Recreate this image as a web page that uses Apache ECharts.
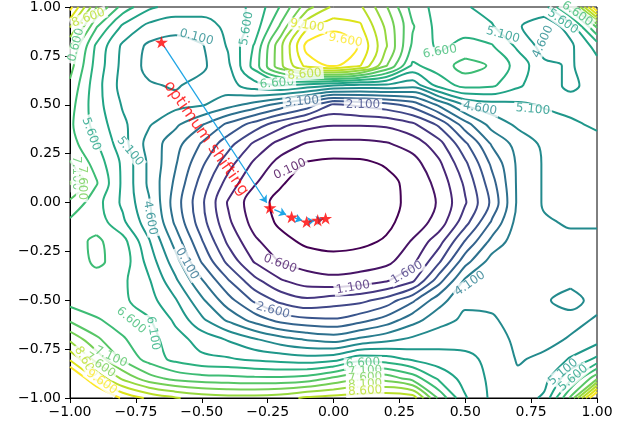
<!DOCTYPE html>
<html><head><meta charset="utf-8">
<script src="https://cdn.jsdelivr.net/npm/echarts/dist/echarts.min.js"></script>
<style>html,body{margin:0;padding:0;background:#fff}#c{width:634px;height:428px}</style>
</head><body><div id="c"></div>
<script>
// ---- data ----
const gridX = [-1.0,-0.9,-0.8,-0.7,-0.6,-0.5,-0.4,-0.3,-0.2,-0.1,0.0,0.1,0.2,0.3,0.4,0.5,0.6,0.7,0.8,0.9,1.0];
const gridY = [1.0,0.9,0.8,0.7,0.6,0.5,0.4,0.3,0.2,0.1,0.0,-0.1,-0.2,-0.3,-0.4,-0.5,-0.6,-0.7,-0.8,-0.9,-1.0];
const rowY100 = [9.8,7.65,6.4,5.7,5.4,5.3,5.4,5.7,6.65,7.9,8.7,8.7,7.65,6.4,5.9,5.65,5.4,5.2,5.4,6.9,10.2];
const rowY090 = [8.65,6.65,5.5,4.95,4.8,4.9,5.2,5.8,7.2,9.0,9.4,9.2,8.0,6.65,5.9,5.9,5.65,5.15,4.8,5.3,7.2];
const rowY080 = [7.65,6.0,5.0,4.5,4.35,4.55,5.15,6.15,8.0,9.8,10.2,9.55,8.15,6.5,6.0,6.25,6.15,5.5,4.9,5.0,5.8];
const rowY070 = [7.3,5.9,4.95,4.45,4.3,4.5,5.0,6.3,8.0,9.3,9.7,9.15,7.65,6.0,6.35,6.8,6.55,5.9,5.2,5.05,5.4];
const rowY060 = [7.0,5.8,4.9,4.65,4.55,4.75,4.9,5.4,5.65,5.4,5.15,5.0,5.0,4.8,5.8,6.3,6.2,5.7,5.2,5.05,5.2];
const rowY050 = [6.8,5.8,5.05,4.8,4.75,4.65,4.3,3.9,3.4,2.9,2.0,2.2,2.4,2.8,3.7,4.65,4.9,5.0,5.15,5.2,5.2];
const rowY040 = [6.7,5.9,5.2,4.65,4.2,3.65,3.0,2.4,1.8,1.3,1.15,1.15,1.2,1.5,2.2,3.4,4.3,4.7,4.9,5.05,5.15];
const rowY030 = [6.8,6.15,5.3,4.4,3.8,3.05,2.3,1.5,0.9,0.55,0.45,0.45,0.55,0.8,1.4,2.5,3.65,4.3,4.7,4.85,5.0];
const rowY020 = [7.15,6.4,5.5,4.5,3.65,2.7,1.8,1.0,0.4,0.05,-0.02,0.0,0.15,0.4,1.0,2.0,3.2,4.2,4.65,4.75,4.85];
const rowY010 = [7.65,6.65,5.5,4.5,3.5,2.4,1.4,0.65,0.15,-0.15,-0.2,-0.18,-0.05,0.25,0.75,1.7,2.9,4.2,4.65,4.7,4.75];
const rowY000 = [7.0,6.3,5.5,4.65,3.35,2.2,1.05,0.3,-0.05,-0.25,-0.3,-0.22,-0.05,0.22,0.65,1.55,2.7,4.2,4.65,4.7,4.7];
const rowYm010 = [6.5,6.4,5.7,4.8,3.5,2.3,1.2,0.4,0.0,-0.2,-0.22,-0.15,0.0,0.3,0.8,1.9,3.15,4.3,4.55,4.65,4.65];
const rowYm020 = [6.4,6.7,6.3,5.15,3.9,2.65,1.5,0.7,0.25,0.0,-0.05,0.0,0.15,0.65,1.4,2.65,3.75,4.4,4.45,4.5,4.5];
const rowYm030 = [6.3,6.7,6.4,5.4,4.3,3.05,1.95,1.05,0.55,0.35,0.25,0.3,0.45,0.95,2.0,3.4,4.3,4.35,4.4,4.45,4.4];
const rowYm040 = [6.2,6.4,6.2,5.65,4.7,3.65,2.65,1.75,1.15,0.85,0.75,0.85,1.05,1.5,2.9,4.2,4.4,4.35,4.5,4.5,4.4];
const rowYm050 = [6.4,6.3,6.2,5.8,5.15,4.2,3.3,2.5,1.95,1.7,1.85,1.95,2.3,3.0,3.9,4.5,4.5,4.4,4.55,4.75,4.45];
const rowYm060 = [7.0,6.65,6.4,6.15,5.5,4.7,4.0,3.4,2.9,2.7,2.65,2.9,3.3,3.9,4.4,4.7,4.65,4.45,4.4,4.45,4.65];
const rowYm070 = [8.0,7.2,6.65,6.3,5.8,5.4,5.05,4.65,4.3,4.05,3.9,4.2,4.45,4.7,4.9,4.95,4.8,4.5,4.45,4.65,4.9];
const rowYm080 = [9.0,7.9,7.0,6.4,5.95,5.7,5.65,5.5,5.4,5.3,5.4,5.9,5.8,5.5,5.3,5.2,5.0,4.55,4.7,5.15,5.7];
const rowYm090 = [10.5,9.0,8.0,7.3,6.95,6.8,6.75,6.7,6.7,6.8,7.2,7.5,7.4,6.9,6.0,5.4,5.0,4.7,4.9,6.0,7.5];
const rowYm100 = [12.0,10.5,9.5,9.0,8.65,8.4,8.3,8.3,8.4,8.7,8.8,8.9,9.0,8.9,7.0,5.65,5.0,4.8,5.2,7.2,10.5];

const contourLevels = [0.1,0.6,1.1,1.6,2.1,2.6,3.1,3.6,4.1,4.6,5.1,5.6,6.1,6.6,7.1,7.6,8.1,8.6,9.1,9.6];
const tickValues = [-1.0,-0.75,-0.5,-0.25,0.0,0.25,0.5,0.75,1.0];

const pathX = [-0.653,-0.241,-0.159,-0.102,-0.060,-0.030];
const pathY = [0.820,-0.027,-0.074,-0.099,-0.091,-0.081];
const annotationText = 'optimum shifting';
const annotationX = -0.484;
const annotationY = 0.328;

const labelX = [-0.52,-0.33,-0.10,0.045,-0.215,-0.11,-0.12,0.112,0.404,0.643,0.795,0.87,0.925,0.556,0.757,-0.165,-0.203,0.074,0.279,-0.23,0.518,-0.556,-0.696,-0.772,-0.92,-0.975,-0.955,-0.977,-0.93,-0.768,-0.685,-0.845,-0.886,-0.94,-0.88,0.112,0.12,0.12,0.12,0.12,0.872,0.91];
const labelY = [0.845,0.89,0.905,0.83,0.61,0.655,0.516,0.50,0.771,0.857,0.822,0.925,0.965,0.481,0.476,0.17,-0.313,-0.435,-0.359,-0.552,-0.415,-0.313,-0.079,0.262,0.35,0.15,0.10,0.806,0.944,-0.603,-0.669,-0.79,-0.832,-0.817,-0.918,-0.822,-0.862,-0.896,-0.93,-0.964,-0.867,-0.898];
const labelText = ['0.100','5.600','9.100','9.600','6.600','8.600','3.100','2.100','6.600','5.100','4.600','5.600','6.600','4.600','5.100','0.100','0.600','1.100','1.600','2.600','4.100','0.100','4.600','5.100','5.600','7.100','7.600','0.600','8.600','6.600','6.100','7.100','7.600','8.600','9.600','6.600','7.100','7.600','8.100','8.600','5.100','5.600'];
const labelAngle = [-15,80,-8,-10,5,5,5,0,10,-15,65,-35,-35,-10,-5,25,-20,10,30,-15,35,-60,-80,-50,-70,-90,-90,75,20,-40,-80,-25,-35,-60,-35,3,3,3,3,3,40,40];
const labelLevel = [4.6,5.6,9.1,9.6,6.6,8.6,3.1,2.1,6.6,5.1,4.6,5.6,6.6,4.6,5.1,0.1,0.6,1.1,1.6,2.6,4.1,3.6,4.6,5.1,5.6,7.1,7.6,6.6,8.6,6.6,6.1,7.1,7.6,8.6,9.6,6.6,7.1,7.6,8.1,8.6,5.1,5.6];

// ---- drawing ----
const field = [rowY100,rowY090,rowY080,rowY070,rowY060,rowY050,rowY040,rowY030,rowY020,rowY010,rowY000,
  rowYm010,rowYm020,rowYm030,rowYm040,rowYm050,rowYm060,rowYm070,rowYm080,rowYm090,rowYm100];
const levelMin = Math.min(...contourLevels), levelMax = Math.max(...contourLevels);

const viridisStops = ['#440154','#471365','#482475','#463480','#414487','#3b528b','#355f8d','#2f6c8e','#2a788e','#25848e','#21918c','#1e9c89','#22a884','#2fb47c','#44bf70','#5ec962','#7ad151','#9bd93c','#bddf26','#dfe318','#fde725'];
function hexRgb(h){return [parseInt(h.slice(1,3),16),parseInt(h.slice(3,5),16),parseInt(h.slice(5,7),16)];}
function viridis(t){
  t=Math.max(0,Math.min(1,t)); const p=t*(viridisStops.length-1);
  const i=Math.min(viridisStops.length-2,Math.floor(p)); const f=p-i;
  const a=hexRgb(viridisStops[i]), b=hexRgb(viridisStops[i+1]);
  return 'rgb('+a.map((v,k)=>Math.round(v+(b[k]-v)*f)).join(',')+')';
}
function levelColor(L){ return viridis((L-levelMin)/(levelMax-levelMin)); }

function buildContours(L){
  const nx=gridX.length, ny=gridY.length;
  const pts={}, adj={};
  function ptH(i,j){const k='h'+i+'_'+j; if(!pts[k]){const va=field[j][i],vb=field[j][i+1];const t=(L-va)/(vb-va);pts[k]=[gridX[i]+t*(gridX[i+1]-gridX[i]),gridY[j]];} return k;}
  function ptV(i,j){const k='v'+i+'_'+j; if(!pts[k]){const va=field[j][i],vb=field[j+1][i];const t=(L-va)/(vb-va);pts[k]=[gridX[i],gridY[j]+t*(gridY[j+1]-gridY[j])];} return k;}
  function link(a,b){(adj[a]=adj[a]||[]).push(b);(adj[b]=adj[b]||[]).push(a);}
  for(let j=0;j<ny-1;j++)for(let i=0;i<nx-1;i++){
    const a=field[j][i],b=field[j][i+1],c=field[j+1][i+1],d=field[j+1][i];
    const A=a>=L,B=b>=L,C=c>=L,D=d>=L;
    const top=A!==B?ptH(i,j):null, right=B!==C?ptV(i+1,j):null, bottom=D!==C?ptH(i,j+1):null, left=A!==D?ptV(i,j):null;
    const e=[top,right,bottom,left].filter(x=>x);
    if(e.length===2) link(e[0],e[1]);
    else if(e.length===4){
      const center=(a+b+c+d)/4>=L;
      if(A!==center){link(left,top);link(right,bottom);} else {link(top,right);link(bottom,left);}
    }
  }
  const used=new Set(), lines=[];
  function walk(start){
    const line=[start]; used.add(start); let cur=start;
    while(true){
      const nb=adj[cur].filter(k=>!used.has(k));
      if(!nb.length){ if(line.length>2 && adj[cur].includes(start)) line.push(start); break; }
      cur=nb[0]; used.add(cur); line.push(cur);
    }
    return line.map(k=>pts[k]);
  }
  const keys=Object.keys(adj);
  keys.filter(k=>adj[k].length===1).forEach(k=>{if(!used.has(k)) lines.push(walk(k));});
  keys.forEach(k=>{if(!used.has(k)) lines.push(walk(k));});
  return lines;
}

const series=[];
contourLevels.forEach(L=>{
  const col=levelColor(L);
  buildContours(L).forEach(poly=>{
    series.push({type:'line',data:poly,symbol:'none',showSymbol:false,smooth:0.35,silent:true,z:2,
      lineStyle:{color:col,width:2},animation:false});
  });
});
series.push({type:'scatter',silent:true,z:5,symbolSize:1,itemStyle:{color:'rgba(0,0,0,0)'},
  label:{show:true,position:'inside',fontSize:12,fontFamily:'DejaVu Sans',backgroundColor:'#ffffff',padding:[0,2]},
  data:labelText.map((t,i)=>({value:[labelX[i],labelY[i]],label:{formatter:t,rotate:labelAngle[i],color:levelColor(labelLevel[i])}}))});
series.push({id:'arrows',type:'lines',coordinateSystem:'cartesian2d',silent:true,z:8,
  symbol:['none','arrow'],symbolSize:[0,7],lineStyle:{color:'#1fa5e5',width:1.3,opacity:1,curveness:0},data:[]});
series.push({type:'scatter',silent:true,z:10,symbolKeepAspect:true,
  symbol:'path://M50,0 L61.23,34.55 L97.55,34.55 L68.16,55.9 L79.39,90.45 L50,69.1 L20.61,90.45 L31.84,55.9 L2.45,34.55 L38.77,34.55 Z',
  symbolSize:13,itemStyle:{color:'#ff0000'},data:pathX.map((x,i)=>[x,pathY[i]])});
series.push({type:'scatter',silent:true,z:12,symbolSize:1,itemStyle:{color:'rgba(0,0,0,0)'},
  label:{show:true,position:'inside',formatter:annotationText,rotate:-55,color:'#ff0000',fontSize:16,fontFamily:'DejaVu Sans'},
  data:[[annotationX,annotationY]]});

const fmt=v=>(v<0?'\u2212':'')+Math.abs(v).toFixed(2);
const axisCommon={type:'value',min:tickValues[0],max:tickValues[tickValues.length-1],interval:0.25,
  axisLine:{show:true,onZero:false,lineStyle:{color:'#000',width:1}},
  axisTick:{show:true,inside:false,length:5,lineStyle:{color:'#000',width:1}},
  splitLine:{show:false}};
const option={animation:false,
  grid:{left:70,right:37,top:5,bottom:30,show:true,borderColor:'#000',borderWidth:1,backgroundColor:'#fff'},
  xAxis:Object.assign({},axisCommon,{axisLabel:{formatter:fmt,color:'#000',fontSize:14,fontFamily:'DejaVu Sans',margin:7,showMinLabel:true,showMaxLabel:true}}),
  yAxis:Object.assign({},axisCommon,{axisLabel:{formatter:fmt,color:'#000',fontSize:14,fontFamily:'DejaVu Sans',margin:9,showMinLabel:true,showMaxLabel:true}}),
  series:series};
const chart=echarts.init(document.getElementById('c'));
chart.setOption(option);
const arrowData=[];
for(let i=0;i<pathX.length-1;i++){
  const p0=chart.convertToPixel({gridIndex:0},[pathX[i],pathY[i]]);
  const p1=chart.convertToPixel({gridIndex:0},[pathX[i+1],pathY[i+1]]);
  const dx=p1[0]-p0[0],dy=p1[1]-p0[1],len=Math.hypot(dx,dy),ux=dx/len,uy=dy/len;
  const a=Math.min(5,len*0.2), b=Math.min(6,len*0.3);
  arrowData.push({coords:[chart.convertFromPixel({gridIndex:0},[p0[0]+ux*a,p0[1]+uy*a]),
                          chart.convertFromPixel({gridIndex:0},[p1[0]-ux*b,p1[1]-uy*b])]});
}
chart.setOption({series:[{id:'arrows',data:arrowData}]});
</script></body></html>
